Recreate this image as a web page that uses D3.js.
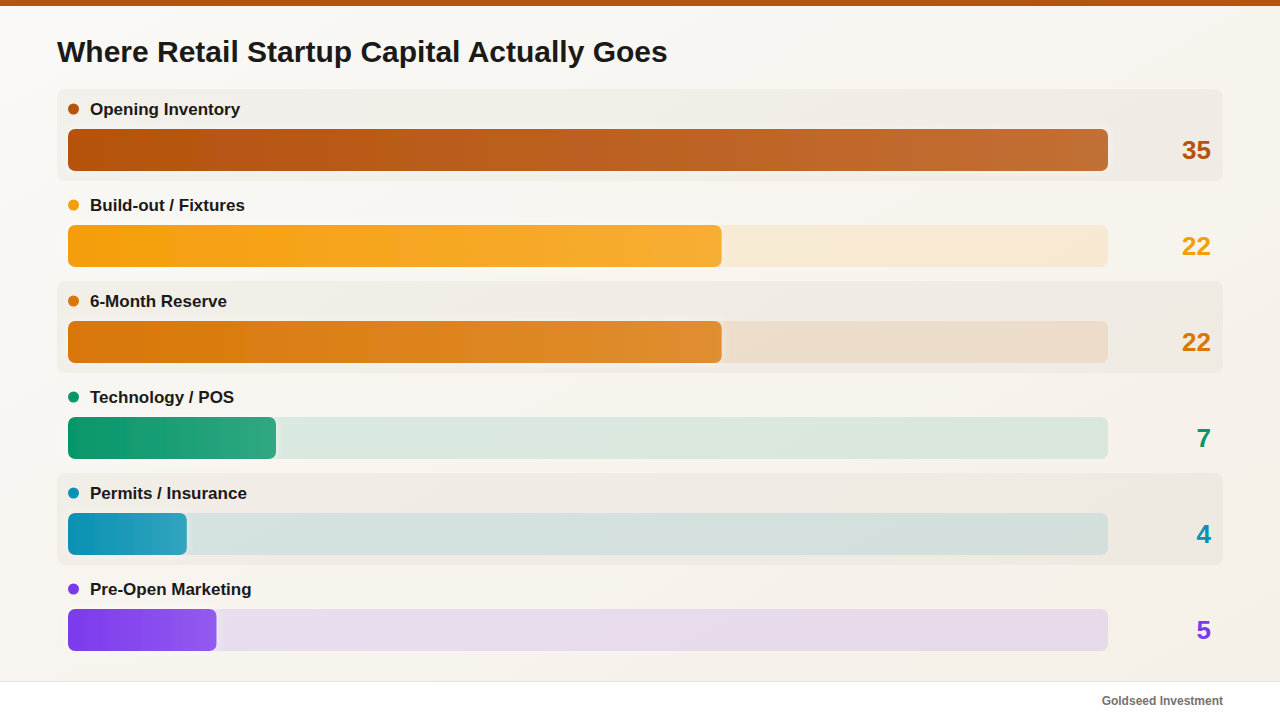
<!DOCTYPE html>
<html>
<head>
<meta charset="utf-8">
<script src="https://cdn.jsdelivr.net/npm/d3@7"></script>
<style>
  html, body { margin: 0; padding: 0; }
  body { width: 1280px; height: 720px; overflow: hidden; font-family: "Liberation Sans", Arial, sans-serif; }
</style>
</head>
<body>
<svg id="chart" width="1280" height="720"></svg>
<script>

// values
let categories = ["Opening Inventory", "Build-out / Fixtures", "6-Month Reserve", "Technology / POS", "Permits / Insurance", "Pre-Open Marketing"]
let values = [35, 22, 22, 7, 4, 5]
let colors = ["#b5520c", "#f59e0b", "#d97706", "#059669", "#0891b2", "#7c3aed"]

let title = "Where Retail Startup Capital Actually Goes"
let footer = "Goldseed Investment"

let width = 1280
let height = 720

let svg = d3.select("#chart")
let defs = svg.append("defs")

// page background
let bg = defs.append("linearGradient").attr("id", "bg")
    .attr("x1", 0).attr("y1", 0).attr("x2", 1).attr("y2", 1)
bg.append("stop").attr("offset", "0%").attr("stop-color", "#faf9f7")
bg.append("stop").attr("offset", "100%").attr("stop-color", "#f5f0e7")

svg.append("rect").attr("width", width).attr("height", height).attr("fill", "url(#bg)")
svg.append("rect").attr("width", width).attr("height", 6).attr("fill", "#b5540c")

svg.append("text")
    .attr("x", 57).attr("y", 62)
    .attr("font-size", 30).attr("font-weight", "bold")
    .attr("fill", "#1c1a18")
    .text(title)

// footer
svg.append("rect").attr("x", 0).attr("y", 681).attr("width", width).attr("height", 39).attr("fill", "#ffffff")
svg.append("line").attr("x1", 0).attr("x2", width).attr("y1", 681.5).attr("y2", 681.5)
    .attr("stroke", "#e8e4dd")
svg.append("text")
    .attr("x", 1223).attr("y", 705)
    .attr("text-anchor", "end")
    .attr("font-size", 12).attr("font-weight", "bold")
    .attr("fill", "#777370")
    .text(footer)

let xScale = d3.scaleLinear()
    .domain([0, d3.max(values)])
    .range([68, 1108])

let yScale = d3.scaleBand()
    .domain(categories)
    .range([89, 89 + 96 * categories.length])

let rows = categories.map((c, i) => ({name: c, value: values[i], color: colors[i], i: i}))

// gradients per bar, solid colours so the glow does not show through
rows.forEach(d => {
    let g = defs.append("linearGradient").attr("id", "grad" + d.i)
        .attr("x1", 0).attr("x2", 1).attr("y1", 0).attr("y2", 0)
    g.append("stop").attr("offset", "0%").attr("stop-color", d.color)
    g.append("stop").attr("offset", "100%").attr("stop-color", d3.interpolateRgb(d.color, "#ffffff")(0.17))
})

let glow = defs.append("filter").attr("id", "glow")
    .attr("x", "-20%").attr("y", "-50%").attr("width", "140%").attr("height", "200%")
glow.append("feGaussianBlur").attr("in", "SourceAlpha").attr("stdDeviation", 5).attr("result", "b")
glow.append("feFlood").attr("flood-color", "#ffffff").attr("flood-opacity", 0.5)
glow.append("feComposite").attr("in2", "b").attr("operator", "in").attr("result", "s")
let merge = glow.append("feMerge")
merge.append("feMergeNode").attr("in", "s")
merge.append("feMergeNode").attr("in", "SourceGraphic")

let elements = svg.selectAll("g.row").data(rows)
    .enter()
    .append("g")
    .attr("class", "row")
    .attr("transform", d => "translate(0," + yScale(d.name) + ")")

// alternate band backgrounds
elements.filter(d => d.i % 2 == 0)
    .append("rect")
    .attr("x", 57).attr("y", 0)
    .attr("width", 1166).attr("height", 92)
    .attr("rx", 8)
    .attr("fill", "#8a7050").attr("fill-opacity", 0.06)

elements.append("circle")
    .attr("cx", 73.5).attr("cy", 20)
    .attr("r", 5.5)
    .attr("fill", d => d.color)

elements.append("text")
    .attr("x", 90).attr("y", 26)
    .attr("font-size", 17).attr("font-weight", "bold")
    .attr("fill", "#1c1a18")
    .text(d => d.name)

// track
elements.append("rect")
    .attr("x", xScale(0)).attr("y", 40)
    .attr("width", xScale(d3.max(values)) - xScale(0)).attr("height", 42)
    .attr("rx", 7)
    .attr("fill", d => d.color).attr("fill-opacity", 0.12)

// bar
elements.append("rect")
    .attr("x", xScale(0)).attr("y", 40)
    .attr("width", d => xScale(d.value) - xScale(0)).attr("height", 42)
    .attr("rx", 7)
    .attr("fill", d => "url(#grad" + d.i + ")")
    .attr("filter", "url(#glow)")

elements.append("text")
    .attr("x", 1211).attr("y", 70)
    .attr("text-anchor", "end")
    .attr("font-size", 26).attr("font-weight", "bold")
    .attr("fill", d => d.color)
    .text(d => d.value)

</script>
</body>
</html>
